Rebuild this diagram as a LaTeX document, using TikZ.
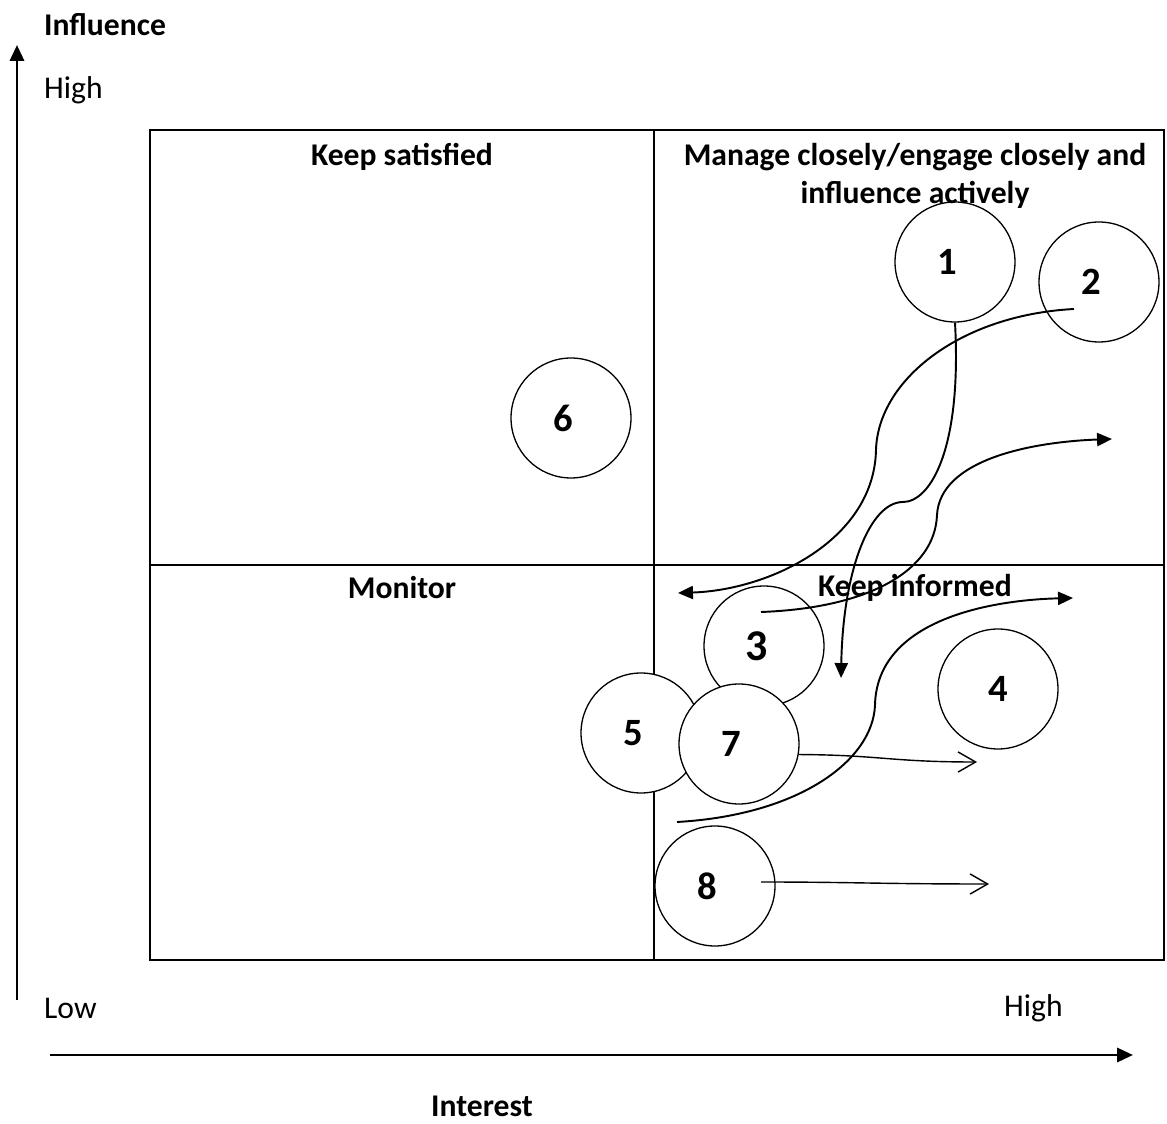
\documentclass[tikz,border=0pt]{standalone}
\usepackage{fontspec}
\setmainfont{Carlito}
\usetikzlibrary{arrows.meta, positioning}

\begin{document}
\begin{tikzpicture}[
    x=0.02cm, y=-0.02cm,
    stake/.style={circle, draw=black, line width=0.75pt, fill=white, minimum size=2.4cm, inner sep=0pt, font=\fontsize{22}{26}\selectfont\bfseries},
    heading/.style={font=\fontsize{18}{21.5}\selectfont\bfseries, align=center},
    level/.style={font=\fontsize{18}{21.5}\selectfont, anchor=west},
    grid/.style={line width=1.1pt},
    axis/.style={line width=1.6pt, -{Triangle[length=9pt, width=8pt]}},
    move/.style={line width=1.1pt, -{Triangle[length=8.5pt, width=7.5pt]}},
    drift/.style={line width=0.8pt, -{Straight Barb[length=10pt, width=11.5pt]}}
]
\useasboundingbox (0,0) rectangle (1167,1124);

% Axes
\coordinate (yfoot) at (17,1000);
\coordinate (ytip) at (17,45);
\coordinate (xfoot) at (50,1055);
\coordinate (xtip) at (1133,1055);
\draw[axis] (yfoot) -- (ytip);
\draw[axis] (xfoot) -- (xtip);

\node[level, font=\fontsize{18}{21.5}\selectfont\bfseries] (influence) at (38,25) {Influence};
\node[level] (yhigh) at (38,90) {High};
\node[level] (ylow) at (38,1008) {Low};
\node[level] (xhigh) at (998,1008) {High};
\node[heading] (interest) at (482,1106) {Interest};

% Grid
\draw[grid] (150,130) rectangle (1164,960);
\draw[grid] (654,130) -- (654,960);
\draw[grid] (150,565) -- (1164,565);

% Stakeholders
\node[stake] (c1) at (955,262) {1\rule{0.3cm}{0pt}};
\node[stake] (c2) at (1099,282) {2\rule{0.3cm}{0pt}};
\node[stake] (c6) at (571,418) {6\rule{0.3cm}{0pt}};
\node[stake] (c4) at (998,689) {4};
\node[stake] (c5) at (641,733) {5\rule{0.3cm}{0pt}};
\node[stake, font=\fontsize{25}{28}\selectfont\bfseries] (c3) at (764,646) {3\rule{0.3cm}{0pt}};
\node[stake] (c7) at (739,744) {7\rule{0.3cm}{0pt}};
\node[stake] (c8) at (715,886) {8\rule{0.3cm}{0pt}};

% Quadrants
\node[heading] (satisfied) at (402,157) {Keep satisfied};
\node[heading] (manage) at (915,176) {Manage closely/engage closely and\\influence actively};
\node[heading] (monitor) at (402,588) {Monitor};
\node[heading] (informed) at (915,588) {Keep informed};

% Movements
\coordinate (s2) at (1074,309);
\coordinate (e2) at (678,593);
\coordinate (e1) at (841,678);
\coordinate (s3) at (761,612);
\coordinate (e3) at (1112,439);
\coordinate (s5) at (677,822);
\coordinate (e5) at (1073,598);
\coordinate (e7) at (977,762);
\coordinate (s8) at (761,882);
\coordinate (e8) at (989,884);

\draw[move] (s2) .. controls (960,315) and (878,380) .. (876,450)
    .. controls (874,540) and (770,590) .. (e2);
\draw[move] (c1.south) .. controls (962,450) and (930,502) .. (903,502)
    .. controls (870,502) and (843,570) .. (e1);
\draw[move] (s3) .. controls (870,608) and (935,570) .. (937,515)
    .. controls (940,460) and (1030,442) .. (e3);
\draw[move] (s5) .. controls (800,815) and (873,760) .. (875,705)
    .. controls (877,620) and (990,600) .. (e5);
\draw[drift] (c7.-10) .. controls (880,755) and (890,762) .. (e7);
\draw[drift] (s8) .. controls (850,882) and (880,884) .. (e8);

\end{tikzpicture}
\end{document}
